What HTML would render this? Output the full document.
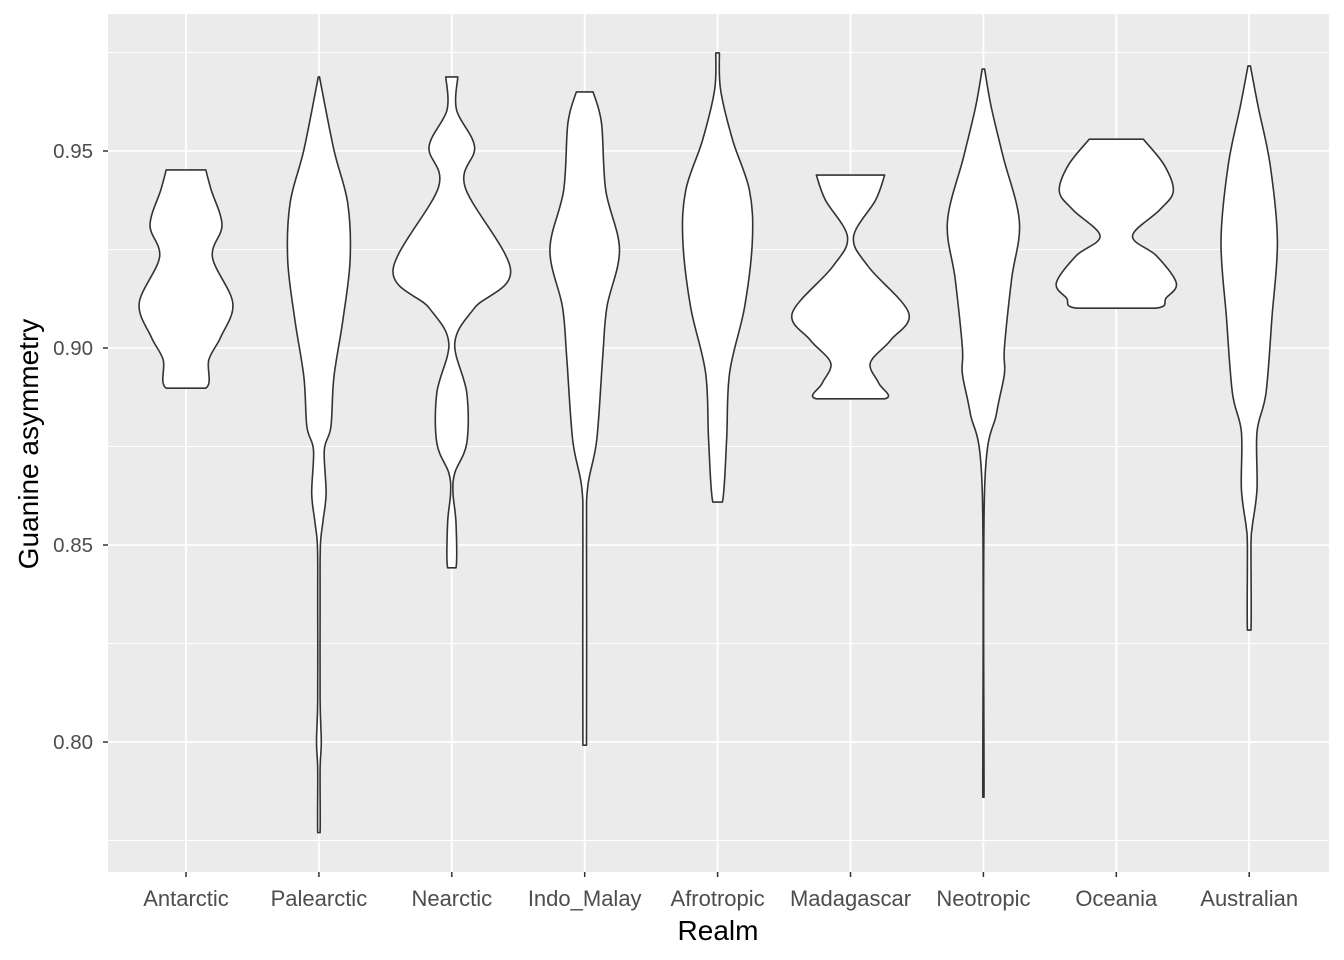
<!DOCTYPE html>
<html><head><meta charset="utf-8"><style>
body{margin:0;background:#fff;}
svg{display:block;font-family:"Liberation Sans",Arial,sans-serif;}
</style></head><body>
<svg id="chart" width="1344" height="960" viewBox="0 0 1344 960">
<rect x="108" y="14" width="1221" height="858" fill="#ebebeb"/>
<g id="grid"></g>
<g id="violins"></g>
<g id="axes"></g>
<text x="718" y="940" font-size="28" text-anchor="middle" fill="#000">Realm</text>
<text transform="translate(38,444) rotate(-90)" font-size="28" text-anchor="middle" fill="#000">Guanine asymmetry</text>
</svg>
<script>
const categories = ["Antarctic","Palearctic","Nearctic","Indo_Malay","Afrotropic","Madagascar","Neotropic","Oceania","Australian"];
const yTicks = [0.80,0.85,0.90,0.95];
const yTickLabels = ["0.80","0.85","0.90","0.95"];
const yMinor = [0.775,0.825,0.875,0.925,0.975];
// violin profiles: values (top to bottom) and relative half-width density
const antarcticY = [0.9452,0.9401,0.9312,0.9231,0.9114,0.9028,0.8970,0.8898];
const antarcticD = [0.33,0.42,0.60,0.44,0.78,0.58,0.38,0.33];
const palearcticY = [0.9688,0.9503,0.9368,0.9223,0.9071,0.8926,0.8800,0.8741,0.8632,0.8563,0.8513,0.846,0.836,0.8107,0.80,0.793,0.777];
const palearcticD = [0.0,0.25,0.48,0.52,0.40,0.25,0.20,0.09,0.12,0.07,0.03,0.02,0.02,0.02,0.04,0.02,0.02];
const nearcticY = [0.9688,0.9604,0.9510,0.9409,0.9198,0.9102,0.9013,0.8886,0.8759,0.8683,0.8632,0.8556,0.8442];
const nearcticD = [0.10,0.08,0.38,0.22,0.98,0.38,0.05,0.25,0.25,0.05,0.02,0.07,0.07];
const indoY = [0.965,0.9571,0.9401,0.9249,0.9104,0.8977,0.8766,0.8647,0.8513,0.7992];
const indoD = [0.14,0.28,0.35,0.58,0.37,0.30,0.20,0.05,0.03,0.03];
const afroY = [0.9749,0.9655,0.9528,0.9401,0.9274,0.9104,0.8937,0.8766,0.8609];
const afroD = [0.03,0.05,0.25,0.53,0.58,0.45,0.20,0.15,0.08];
const madaY = [0.9439,0.9376,0.9282,0.9206,0.9089,0.9020,0.8962,0.8911,0.8871];
const madaD = [0.57,0.42,0.05,0.30,0.97,0.67,0.33,0.47,0.57];
const neoY = [0.9708,0.9612,0.9485,0.932,0.9175,0.90,0.8934,0.8835,0.8642,0.786];
const neoD = [0.02,0.13,0.33,0.60,0.47,0.35,0.35,0.22,0.02,0.01];
const oceY = [0.953,0.9464,0.9398,0.935,0.9284,0.9234,0.9165,0.9127,0.9101];
const oceD = [0.45,0.80,0.95,0.72,0.27,0.67,1.0,0.83,0.65];
const ausY = [0.9716,0.9612,0.9464,0.9272,0.9079,0.8886,0.8787,0.8642,0.8546,0.8497,0.8284];
const ausD = [0.02,0.15,0.35,0.47,0.38,0.28,0.13,0.13,0.05,0.03,0.03];
const violinValues = [antarcticY,palearcticY,nearcticY,indoY,afroY,madaY,neoY,oceY,ausY];
const violinDensity = [antarcticD,palearcticD,nearcticD,indoD,afroD,madaD,neoD,oceD,ausD];

const NS="http://www.w3.org/2000/svg";
const panel={l:108,r:1329,t:14,b:872};
function yScale(v){return 348-(v-0.90)*3940;}
function xScale(i){return 186+i*132.9;}
function wScale(d){return d*60;}
function mk(tag,attrs,parent){const e=document.createElementNS(NS,tag);for(const k in attrs)e.setAttribute(k,attrs[k]);parent.appendChild(e);return e;}
const grid=document.getElementById('grid'),vg=document.getElementById('violins'),ax=document.getElementById('axes');
yMinor.forEach(v=>{const l=mk('line',{x1:panel.l,x2:panel.r,y1:yScale(v),y2:yScale(v),stroke:'#fff','stroke-width':0.9},grid);

});
yTicks.forEach((v,i)=>{const y=yScale(v);
const l=mk('line',{x1:panel.l,x2:panel.r,y1:y,y2:y,stroke:'#fff','stroke-width':1.8},grid);


const t=mk('line',{x1:103,x2:108,y1:y,y2:y,stroke:'#333','stroke-width':1.5},ax);


const tx=mk('text',{x:93,y:y+7,'font-size':20.5,'text-anchor':'end',fill:'#4d4d4d'},ax);tx.textContent=yTickLabels[i];

});
categories.forEach((c,i)=>{const x=xScale(i);
const l=mk('line',{x1:x,x2:x,y1:panel.t,y2:panel.b,stroke:'#fff','stroke-width':1.8},grid);


const t=mk('line',{x1:x,x2:x,y1:872,y2:877,stroke:'#333','stroke-width':1.5},ax);


const tx=mk('text',{x:x,y:906,'font-size':22,'text-anchor':'middle',fill:'#4d4d4d'},ax);tx.textContent=c;


const ys=violinValues[i],ds=violinDensity[i];
const right=ys.map((v,k)=>[x+Math.max(wScale(ds[k]),0.6),yScale(v)]);
const left=ys.map((v,k)=>[x-Math.max(wScale(ds[k]),0.6),yScale(v)]).reverse();
const pts=right.concat(left);
let d='M'+pts[0][0]+','+pts[0][1];
for(let k=0;k<pts.length-1;k++){
 const p0=pts[Math.max(k-1,0)],p1=pts[k],p2=pts[k+1],p3=pts[Math.min(k+2,pts.length-1)];
 const sameSide=(k!==right.length-1);
 if(!sameSide){d+=' L'+p2[0]+','+p2[1];continue;}
 const c1=[p1[0]+(p2[0]-p0[0])/6,p1[1]+(p2[1]-p0[1])/6],c2=[p2[0]-(p3[0]-p1[0])/6,p2[1]-(p3[1]-p1[1])/6];
 d+=' C'+c1[0]+','+c1[1]+' '+c2[0]+','+c2[1]+' '+p2[0]+','+p2[1];
}
d+='Z';
const p=mk('path',{d:d,fill:'#fff',stroke:'#333','stroke-width':1.6,'stroke-linejoin':'round'},vg);


});
</script>
</body></html>
